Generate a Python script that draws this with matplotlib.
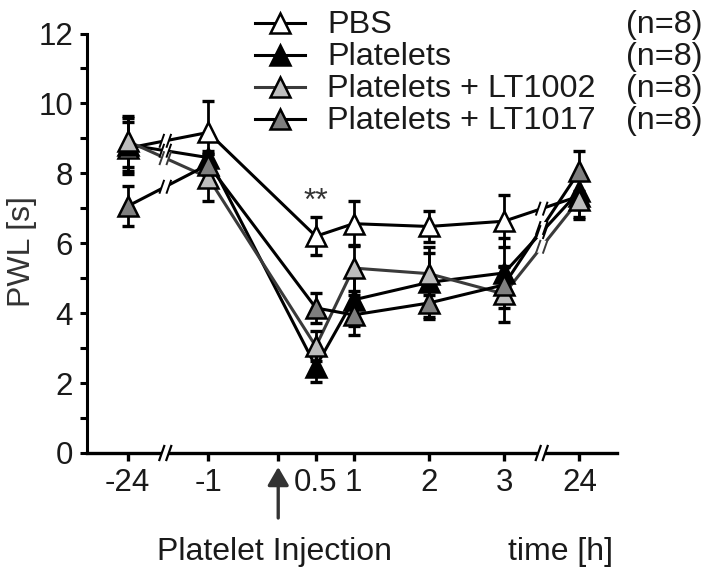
import numpy as np
import matplotlib.pyplot as plt
from matplotlib.lines import Line2D
from matplotlib.patches import Polygon
from matplotlib.transforms import IdentityTransform

plt.rcParams['font.family'] = ['Liberation Sans', 'DejaVu Sans']

# data
time_labels = ['-24', '-1', '0.5', '1', '2', '3', '24']
groups = ['PBS', 'Platelets', 'Platelets + LT1002', 'Platelets + LT1017']
n_labels = ['(n=8)', '(n=8)', '(n=8)', '(n=8)']

pbs = [8.72, 9.17, 6.20, 6.56, 6.48, 6.63, 7.35]
pbs_sem = [0.75, 0.90, 0.55, 0.65, 0.45, 0.74, 0.60]
platelets = [8.82, 8.45, 2.47, 4.38, 4.88, 5.15, 7.49]
platelets_sem = [0.75, 0.20, 0.43, 0.76, 1.00, 1.00, 0.50]
lt1002 = [8.92, 7.88, 3.05, 5.29, 5.13, 4.55, 7.25]
lt1002_sem = [0.73, 0.68, 0.43, 0.65, 0.60, 0.80, 0.55]
lt1017 = [7.06, 8.25, 4.15, 3.95, 4.29, 4.81, 8.06]
lt1017_sem = [0.57, 0.30, 0.43, 0.57, 0.45, 0.50, 0.57]

means = [pbs, platelets, lt1002, lt1017]
sems = [pbs_sem, platelets_sem, lt1002_sem, lt1017_sem]

# layout: broken time axis, positions of the categories
xpos = [-2.0, -0.93, 0.5, 1.0, 2.0, 3.0, 4.0]
breaks = [(-1.5, 0), (3.5, 5)]
injection = 0.0

line_colors = ['black', 'black', '#3a3a3a', 'black']
face_colors = ['white', 'black', '#bdbdbd', '#7f7f7f']
ink = '#1a1a1a'

W, H = 708, 571
fig = plt.figure(figsize=(W / 100, H / 100), dpi=100)
ax = fig.add_axes([87 / W, 1 - 453 / H, 530 / W, 419.5 / H])
ax.set_xlim(-2.54, 4.50)
ax.set_ylim(0, 12)
ax.set_autoscale_on(False)

for i in range(4):
    ax.plot(xpos, means[i], color=line_colors[i], lw=2.2, zorder=2,
            clip_on=False, solid_joinstyle='round')
for i in range(4):
    ax.errorbar(xpos, means[i], yerr=sems[i], fmt='none', ecolor='black',
                elinewidth=2.0, capsize=4, capthick=2.4,
                zorder=2.6 + i * 0.1, clip_on=False)
    ax.plot(xpos, means[i], ls='none', marker='^', ms=14,
            mfc=face_colors[i], mec='black', mew=1.8,
            zorder=3 + i * 0.1, clip_on=False)


def break_mark(px, py, half_h, color, lw, gap=3.5, z=2.4):
    dx = half_h * 0.35
    pts = [(px - gap - dx, py - half_h), (px + gap - dx, py - half_h),
           (px + gap + dx, py + half_h), (px - gap + dx, py + half_h)]
    ax.add_patch(Polygon(pts, closed=True, fc='white', ec='none',
                         transform=IdentityTransform(), zorder=z,
                         clip_on=False))
    for s in (-gap, gap):
        ax.add_line(Line2D([px + s - dx, px + s + dx],
                           [py - half_h, py + half_h], color=color, lw=lw,
                           transform=IdentityTransform(), zorder=z + 0.05,
                           clip_on=False))


# gaps in the series lines
for xb, k in breaks:
    for i in range(4):
        yb = np.interp(xb, xpos[k:k + 2], means[i][k:k + 2])
        px, py = ax.transData.transform((xb, yb))
        break_mark(px, py, 6, line_colors[i], 1.4, z=2.4 + i * 0.01)
    # gap in the x axis
    px, py = ax.transData.transform((xb, 0))
    break_mark(px, py, 7, 'black', 1.6, gap=3.5, z=3.6)

# axes styling
for side in ['top', 'right']:
    ax.spines[side].set_visible(False)
ax.spines['left'].set_linewidth(2.2)
ax.spines['bottom'].set_linewidth(2.4)
ax.spines['left'].set_color('black')
ax.spines['bottom'].set_color('black')

ax.set_yticks(range(0, 13, 2))
ax.set_yticks(range(1, 12, 2), minor=True)
ax.set_xticks([xpos[0], xpos[1], injection] + xpos[2:])
ax.set_xticklabels([time_labels[0], time_labels[1], ''] + time_labels[2:])
ax.tick_params(axis='y', which='both', direction='out', length=5, width=2.2,
               pad=5, labelsize=22.5, labelcolor=ink)
ax.tick_params(axis='x', direction='out', length=5.5, width=2.4, pad=5,
               labelsize=22.5, labelcolor=ink)

# significance mark
ax.text(xpos[2], 6.96, '**', ha='center', va='baseline', fontsize=23,
        color='#333333')

# injection arrow
ax.annotate('', xy=(injection, H - 467), xycoords=('data', 'figure pixels'),
            xytext=(injection, H - 518), textcoords=('data', 'figure pixels'),
            arrowprops=dict(arrowstyle='-|>,head_length=0.55,head_width=0.32',
                            mutation_scale=20, lw=2.4, color='#333333',
                            shrinkA=0, shrinkB=0),
            annotation_clip=False)

fig.text(157 / W, 1 - 560 / H, 'Platelet Injection', va='baseline',
         fontsize=23, color=ink)
fig.text(613 / W, 1 - 560 / H, 'time [h]', ha='right', va='baseline',
         fontsize=23, color=ink)
fig.text(22 / W, 1 - 252 / H, 'PWL [s]', rotation=90, ha='center',
         va='center', fontsize=23, color='#333333')

# legend drawn row by row
row_y = [22.7, 54.7, 86.7, 118.7]
for i in range(4):
    ly = 1 - row_y[i] / H
    fig.add_artist(Line2D([255 / W, 280 / W, 305 / W], [ly] * 3,
                          color=line_colors[i], lw=2.2, marker='^',
                          markevery=[1], ms=14, mfc=face_colors[i],
                          mec='black', mew=1.8))
    by = 1 - (row_y[i] + 10.6) / H
    fig.text(327 / W, by, groups[i], va='baseline', fontsize=23.3, color=ink)
    fig.text(702 / W, by, n_labels[i], ha='right', va='baseline',
             fontsize=23.3, color=ink)

fig.savefig('out.png', dpi=100)
